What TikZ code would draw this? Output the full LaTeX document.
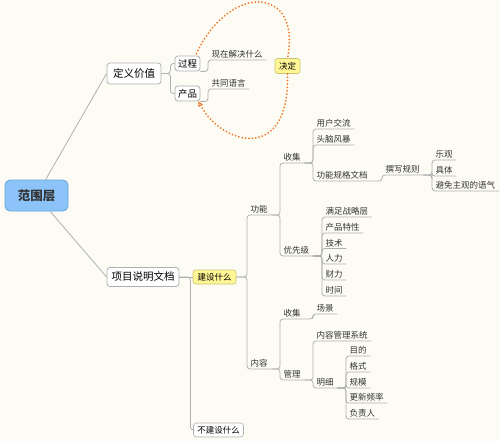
\documentclass[tikz,border=0pt]{standalone}
\usepackage{fontspec}
\setmainfont{Noto Sans CJK SC}
\usetikzlibrary{arrows.meta}

\definecolor{paper}{RGB}{253,252,244}
\definecolor{twig}{RGB}{175,175,175}
\definecolor{rootfill}{RGB}{140,196,250}
\definecolor{rootline}{RGB}{105,160,220}
\definecolor{notefill}{RGB}{255,246,150}
\definecolor{noteline}{RGB}{205,195,110}
\definecolor{loop}{RGB}{240,122,40}

\begin{document}
\begin{tikzpicture}[x=1pt, y=-1pt,
    branch/.style={draw=twig, line width=0.8pt, rounded corners=3pt},
    topic/.style={draw=twig, fill=white, rounded corners=3pt, inner sep=0pt, line width=0.8pt},
    note/.style={draw=noteline, fill=notefill, rounded corners=2.5pt, inner sep=0pt, line width=0.6pt,
                 font=\fontsize{8.5}{9}\selectfont},
    lbl/.style={anchor=south west, inner xsep=3.5pt, inner ysep=1.5pt, text=black!80,
                font=\fontsize{8.5}{9}\selectfont},
    relation/.style={draw=loop, line width=2pt, dash pattern=on 0pt off 3.4pt, line cap=round}
  ]
            \def\leaf#1#2{\draw[branch] (#1.south east) -| (#2.south west) -- (#2.south east);}

            % Paper
            \fill[paper] (0,0) rectangle (500,441);
            \useasboundingbox (0,0) rectangle (500,441);

            % Central topic
            \node[draw=rootline, fill=rootfill, rounded corners=5pt, line width=0.8pt,
                  minimum width=63pt, minimum height=31pt, inner sep=0pt,
                  font=\fontsize{12.5}{13}\selectfont\bfseries, text=black!80] (root) at (36.5,195.5) {范围层};

            % Main topics
            \node[topic, minimum width=54pt, minimum height=21pt, font=\fontsize{10.5}{11}\selectfont] (value) at (134,73.5) {定义价值};
            \node[topic, minimum width=72pt, minimum height=19pt, font=\fontsize{10.5}{11}\selectfont] (doc) at (143,277) {项目说明文档};
            \draw[branch] (root) -- (value.west);
            \draw[branch] (root) -- (doc.west);

            % Define value
            \node[topic, minimum width=25pt, minimum height=15pt, font=\fontsize{9.5}{10}\selectfont] (process) at (187.5,63.5) {过程};
            \node[topic, minimum width=25pt, minimum height=15pt, font=\fontsize{9.5}{10}\selectfont] (product) at (187.5,93.5) {产品};
            \draw[branch] (value.east) -- ++(9,0) |- (process.west);
            \draw[branch] (value.east) -- ++(9,0) |- (product.west);

            \node[lbl] (now) at (208,60) {现在解决什么};
            \node[lbl] (common) at (208,89) {共同语言};
            \leaf{process}{now}
            \leaf{product}{common}

            \node[note, minimum width=25pt, minimum height=15pt] (decide) at (287.5,66) {决定};

            % Relationship loop
            \draw[relation] ([xshift=-4pt,yshift=2pt]process.north east) .. controls (230,-18) and (302,-14) .. (decide.north);
            \draw[relation, -{Triangle[open, length=5pt, width=5pt, line width=1pt]}]
              (decide.south) .. controls (290,164) and (222,145) .. ([xshift=-2pt]product.south east);

            % Project document
            \node[note, minimum width=43pt, minimum height=14pt] (build) at (214.5,277) {建设什么};
            \node[topic, minimum width=50pt, minimum height=14pt, font=\fontsize{8.5}{9}\selectfont, line width=0.6pt] (nobuild) at (218.5,430) {不建设什么};
            \draw[branch] (doc.east) -- (build.west);
            \draw[branch] (doc.east) -- ++(11,0) |- (nobuild.west);

            % Features
            \node[lbl] (func) at (247,215) {功能};
            \node[lbl] (content) at (247,369) {内容};
            \draw[branch] (build.east) -| (func.south west) -- (func.south east);
            \draw[branch] (build.east) -| (content.south west) -- (content.south east);

            \node[lbl] (fcollect) at (280,163) {收集};
            \node[lbl] (priority) at (280,256) {优先级};
            \leaf{func}{fcollect}
            \leaf{func}{priority}

            \node[lbl] (user) at (313,129) {用户交流};
            \node[lbl] (brain) at (313,145) {头脑风暴};
            \node[lbl] (spec) at (313,181) {功能规格文档};
            \foreach \c in {user,brain,spec} {\leaf{fcollect}{\c}}

            \node[lbl] (rules) at (382,175) {撰写规则};
            \leaf{spec}{rules}

            \node[lbl] (hopeful) at (432,160) {乐观};
            \node[lbl] (concrete) at (432,176) {具体};
            \node[lbl] (neutral) at (432,191) {避免主观的语气};
            \foreach \c in {hopeful,concrete,neutral} {\leaf{rules}{\c}}

            \node[lbl] (strategy) at (322,217) {满足战略层};
            \node[lbl] (trait) at (322,233) {产品特性};
            \node[lbl] (tech) at (322,248.5) {技术};
            \node[lbl] (people) at (322,264) {人力};
            \node[lbl] (money) at (322,280) {财力};
            \node[lbl] (time) at (322,296) {时间};
            \foreach \c in {strategy,trait,tech,people,money,time} {\leaf{priority}{\c}}

            % Content
            \node[lbl] (ccollect) at (280,319) {收集};
            \node[lbl] (manage) at (280,380) {管理};
            \leaf{content}{ccollect}
            \leaf{content}{manage}

            \node[lbl] (scene) at (313,314) {场景};
            \leaf{ccollect}{scene}

            \node[lbl] (cms) at (313,341) {内容管理系统};
            \node[lbl] (detail) at (313,388) {明细};
            \leaf{manage}{cms}
            \leaf{manage}{detail}

            \node[lbl] (purpose) at (346,356) {目的};
            \node[lbl] (format) at (346,372) {格式};
            \node[lbl] (size) at (346,388) {规模};
            \node[lbl] (freq) at (346,403) {更新频率};
            \node[lbl] (owner) at (346,419) {负责人};
            \foreach \c in {purpose,format,size,freq,owner} {\leaf{detail}{\c}}
        \end{tikzpicture}
\end{document}
